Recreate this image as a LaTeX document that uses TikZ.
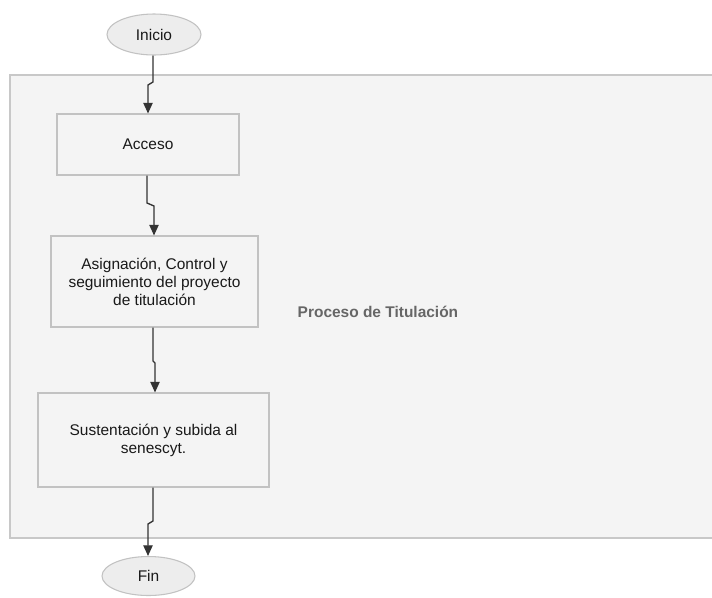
\documentclass[tikz,border=0pt]{standalone}
\usepackage{fontspec}
\setmainfont{Liberation Sans}
\usetikzlibrary{arrows.meta,shapes.geometric}
\definecolor{bgfill}{HTML}{F4F4F4}
\definecolor{bgline}{HTML}{C8C8C8}
\definecolor{boxline}{HTML}{C2C2C2}
\definecolor{ellfill}{HTML}{EDEDED}
\definecolor{lbl}{HTML}{666666}
\tikzset{
  every node/.style={font=\fontsize{11.6}{13.5}\selectfont, text=black!90},
  stepbox/.style={draw=boxline, fill=bgfill, line width=0.8pt, rectangle, inner sep=0pt, align=center},
  term/.style={draw=boxline, fill=ellfill, line width=0.8pt, ellipse, inner sep=0pt},
  flow/.style={draw=black!80, line width=1pt, -{Triangle[length=8pt,width=7pt]}},
}
\begin{document}
\begin{tikzpicture}[x=0.75pt,y=-0.75pt]
\useasboundingbox (0,0) rectangle (712,597);
\fill[white] (0,0) rectangle (712,597);
% process container
\draw[draw=bgline, fill=bgfill, line width=1pt] (10,75) rectangle (720,538);
\node[font=\fontsize{11.6}{13.5}\selectfont\bfseries, text=lbl, anchor=west] (proc) at (293,312) {Proceso de Titulación};
% nodes
\node[term, minimum width=70.5pt, minimum height=30.75pt] (ini) at (154,34.5) {Inicio};
\node[stepbox, minimum width=136.5pt, minimum height=45.75pt] (acc) at (148,144.5) {Acceso};
\node[stepbox, minimum width=155.25pt, minimum height=68.25pt] (asg) at (154.5,281.5) {Asignación, Control y\\seguimiento del proyecto\\de titulación};
\node[stepbox, minimum width=173.25pt, minimum height=70.5pt] (sus) at (153.5,440) {Sustentación y subida al\\senescyt.};
\node[term, minimum width=69.75pt, minimum height=29.25pt] (fin) at (148.5,576) {Fin};
% connectors
\draw[flow] (ini.south -| 153,0) -- (153,82) -- (148,85) -- (acc.north -| 148,0);
\draw[flow] (acc.south -| 147,0) -- (147,203) -- (154,206) -- (asg.north -| 154,0);
\draw[flow] (asg.south -| 153,0) -- (153,361) -- (155,363) -- (sus.north -| 155,0);
\draw[flow] (sus.south -| 153,0) -- (153,521) -- (148,524) -- (fin.north -| 148,0);
\end{tikzpicture}
\end{document}
